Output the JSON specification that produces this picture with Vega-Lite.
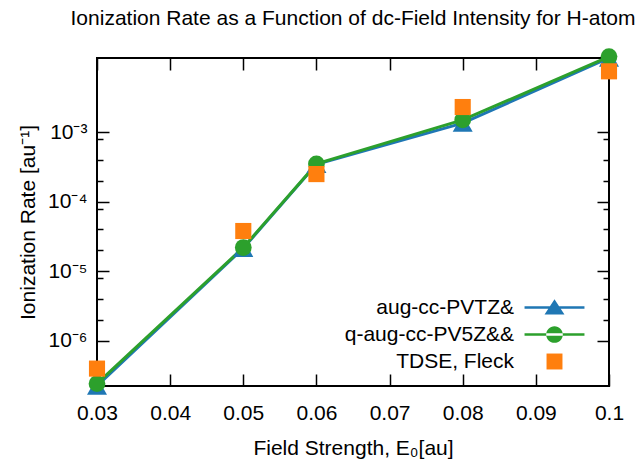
{
  "$schema": "https://vega.github.io/schema/vega-lite/v6.json",
  "width": 512,
  "height": 328,
  "autosize": {"type": "none"},
  "padding": {"left": 97, "top": 58, "right": 31, "bottom": 74},
  "title": {
    "text": "Ionization Rate as a Function of dc-Field Intensity for H-atom",
    "frame": "group",
    "anchor": "middle",
    "fontSize": 21,
    "fontWeight": "normal",
    "font": "Liberation Sans",
    "color": "black",
    "offset": 19
  },
  "config": {
    "font": "Liberation Sans",
    "view": {"stroke": "black", "strokeWidth": 2},
    "axis": {
      "domain": false,
      "grid": false,
      "tickColor": "black",
      "tickWidth": 1.5,
      "labelColor": "black",
      "titleColor": "black",
      "labelFontSize": 21,
      "titleFontSize": 21,
      "titleFontWeight": "normal",
      "labelFont": "Liberation Sans",
      "titleFont": "Liberation Sans",
      "labelFlush": false
    }
  },
  "data": {
    "values": [
      {"field": 0.03, "rate": 2.25e-7, "series": "aug-cc-PVTZ&"},
      {"field": 0.05, "rate": 2.15e-5, "series": "aug-cc-PVTZ&"},
      {"field": 0.06, "rate": 3.45e-4, "series": "aug-cc-PVTZ&"},
      {"field": 0.08, "rate": 1.35e-3, "series": "aug-cc-PVTZ&"},
      {"field": 0.1, "rate": 1.165e-2, "series": "aug-cc-PVTZ&"},
      {"field": 0.03, "rate": 2.43e-7, "series": "q-aug-cc-PV5Z&&"},
      {"field": 0.05, "rate": 2.2e-5, "series": "q-aug-cc-PV5Z&&"},
      {"field": 0.06, "rate": 3.5e-4, "series": "q-aug-cc-PV5Z&&"},
      {"field": 0.08, "rate": 1.5e-3, "series": "q-aug-cc-PV5Z&&"},
      {"field": 0.1, "rate": 1.22e-2, "series": "q-aug-cc-PV5Z&&"},
      {"field": 0.03, "rate": 4.0e-7, "series": "TDSE, Fleck"},
      {"field": 0.05, "rate": 3.8e-5, "series": "TDSE, Fleck"},
      {"field": 0.06, "rate": 2.5e-4, "series": "TDSE, Fleck"},
      {"field": 0.08, "rate": 2.3e-3, "series": "TDSE, Fleck"},
      {"field": 0.1, "rate": 7.5e-3, "series": "TDSE, Fleck"}
    ]
  },
  "layer": [
    {
      "transform": [{"filter": "datum.series != 'TDSE, Fleck'"}],
      "mark": {"type": "line", "strokeWidth": 3},
      "encoding": {
        "x": {
          "field": "field",
          "type": "quantitative",
          "scale": {"domain": [0.03, 0.1], "nice": false, "zero": false},
          "axis": {
            "orient": "bottom",
            "values": [0.03, 0.04, 0.05, 0.06, 0.07, 0.08, 0.09, 0.1],
            "format": ".2~f",
            "tickSize": -12,
            "labelPadding": 28,
            "title": "Field Strength, E₀[au]",
            "titlePadding": 14
          }
        },
        "y": {
          "field": "rate",
          "type": "quantitative",
          "scale": {"type": "log", "domain": [2.25e-7, 0.01165], "nice": false},
          "axis": {
            "orient": "left",
            "values": [1e-6, 2e-6, 4e-6, 8e-6, 1e-5, 2e-5, 4e-5, 8e-5, 1e-4, 2e-4, 4e-4, 8e-4, 1e-3],
            "labelExpr": "datum.value == 0.001 ? '10⁻³' : datum.value == 0.0001 ? '10⁻⁴' : datum.value == 0.00001 ? '10⁻⁵' : datum.value == 0.000001 ? '10⁻⁶' : ''",
            "tickSize": {"condition": {"test": "indexof([0.000001, 0.00001, 0.0001, 0.001], datum.value) >= 0", "value": -12}, "value": -6},
            "labelPadding": 22,
            "title": "Ionization Rate [au⁻¹]",
            "titlePadding": 9
          }
        },
        "color": {
          "field": "series",
          "type": "nominal",
          "scale": {"domain": ["aug-cc-PVTZ&", "q-aug-cc-PV5Z&&", "TDSE, Fleck"], "range": ["#1f77b4", "#2ca02c", "#ff7f0e"]}
        }
      }
    },
    {
      "mark": {"type": "point", "filled": true, "opacity": 0},
      "encoding": {
        "x": {
          "field": "field",
          "type": "quantitative",
          "axis": {
            "orient": "top",
            "values": [0.03, 0.04, 0.05, 0.06, 0.07, 0.08, 0.09, 0.1],
            "labels": false,
            "tickSize": -12,
            "title": null
          }
        },
        "y": {
          "field": "rate",
          "type": "quantitative",
          "axis": {
            "orient": "right",
            "values": [1e-6, 2e-6, 4e-6, 8e-6, 1e-5, 2e-5, 4e-5, 8e-5, 1e-4, 2e-4, 4e-4, 8e-4, 1e-3],
            "labels": false,
            "tickSize": {"condition": {"test": "indexof([0.000001, 0.00001, 0.0001, 0.001], datum.value) >= 0", "value": -12}, "value": -6},
            "title": null
          }
        },
        "color": {
          "field": "series",
          "type": "nominal",
          "legend": {
            "orient": "none",
            "legendX": 447,
            "legendY": 239,
            "title": null,
            "padding": 0,
            "symbolSize": 300,
            "rowPadding": 5,
            "labelAlign": "right",
            "labelOffset": -51,
            "labelFontSize": 21,
            "labelFont": "Liberation Sans",
            "labelColor": "black",
            "labelLimit": 400,
            "symbolStrokeWidth": 0,
            "symbolOpacity": 1
          }
        },
        "shape": {
          "field": "series",
          "type": "nominal",
          "scale": {
            "domain": ["aug-cc-PVTZ&", "q-aug-cc-PV5Z&&", "TDSE, Fleck"],
            "range": [
              "M-3.46,-0.15 L3.46,-0.15 L3.46,0.15 L-3.46,0.15 Z M0,-0.95 L1.15,0.8 L-1.15,0.8 Z",
              "M-3.46,-0.15 L3.46,-0.15 L3.46,0.15 L-3.46,0.15 Z M-0.96,0 A0.96,0.96 0 1,0 0.96,0 A0.96,0.96 0 1,0 -0.96,0 Z",
              "M-0.92,-0.92 L0.92,-0.92 L0.92,0.92 L-0.92,0.92 Z"
            ]
          }
        }
      }
    },
    {
      "mark": {"type": "point", "filled": true, "opacity": 1},
      "encoding": {
        "x": {"field": "field", "type": "quantitative", "axis": null},
        "y": {"field": "rate", "type": "quantitative", "axis": null},
        "color": {"field": "series", "type": "nominal"},
        "shape": {
          "condition": [
            {"test": "datum.series == 'aug-cc-PVTZ&'", "value": "triangle-up"},
            {"test": "datum.series == 'q-aug-cc-PV5Z&&'", "value": "circle"}
          ],
          "value": "square"
        },
        "size": {
          "condition": [
            {"test": "datum.series == 'aug-cc-PVTZ&'", "value": 400},
            {"test": "datum.series == 'q-aug-cc-PV5Z&&'", "value": 280}
          ],
          "value": 260
        }
      }
    }
  ],
  "resolve": {"axis": {"x": "independent", "y": "independent"}}
}
